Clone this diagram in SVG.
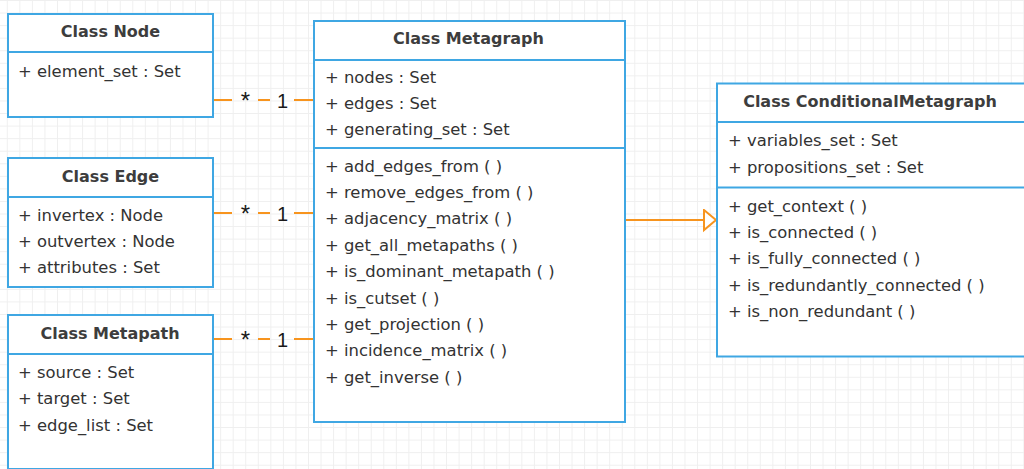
<svg xmlns="http://www.w3.org/2000/svg" width="1024" height="469" viewBox="0 0 1024 469">
  <style>
    .box { fill: #ffffff; stroke: #3FA7E3; stroke-width: 2; }
    .div { stroke: #3FA7E3; stroke-width: 2; fill: none; }
    .title { font-family: "DejaVu Sans", "Liberation Sans", sans-serif; font-size: 16px; font-weight: bold; fill: #3d3d3d; text-anchor: middle; }
    .member { font-family: "DejaVu Sans", "Liberation Sans", sans-serif; font-size: 16.4px; fill: #333333; }
    .assoc { stroke: #F7941E; stroke-width: 2; fill: none; }
    .mult { font-family: "Liberation Sans", Arial, sans-serif; font-size: 20px; fill: #1a1a1a; text-anchor: middle; }
    .star { font-size: 24px; }
  </style>
  <defs>
    <pattern id="grid" patternUnits="userSpaceOnUse" x="6.8" y="0" width="12.55" height="12.56">
      <rect x="0" y="0" width="1" height="12.56" fill="#efefef"/>
      <rect x="0" y="0" width="12.55" height="1" fill="#efefef"/>
    </pattern>
    <marker id="inherit" markerUnits="userSpaceOnUse" markerWidth="16" markerHeight="24" refX="13" refY="11" orient="auto">
      <path d="M1,1 L13,11 L1,21 Z" fill="#ffffff" stroke="#F7941E" stroke-width="2"/>
    </marker>
  </defs>

  <!-- background grid -->
  <rect x="0" y="0" width="1024" height="469" fill="#ffffff"/>
  <rect x="0" y="0" width="1024" height="469" fill="url(#grid)"/>

  <!-- connectors -->
  <g id="connectors">
    <!-- Node * - 1 Metagraph -->
    <path class="assoc" d="M214,100 H232 M258,100 H270 M294,100 H313"/>
    <text class="mult star" x="245.5" y="109">*</text>
    <text class="mult" x="282.5" y="108">1</text>
    <!-- Edge * - 1 Metagraph -->
    <path class="assoc" d="M214,213 H232 M258,213 H270 M294,213 H313"/>
    <text class="mult star" x="245.5" y="222">*</text>
    <text class="mult" x="282.5" y="221">1</text>
    <!-- Metapath * - 1 Metagraph -->
    <path class="assoc" d="M214,339 H232 M258,339 H270 M294,339 H313"/>
    <text class="mult star" x="245.5" y="348">*</text>
    <text class="mult" x="282.5" y="347">1</text>
    <!-- ConditionalMetagraph generalises Metagraph -->
    <path class="assoc" d="M626,220 H716" marker-end="url(#inherit)"/>
  </g>

  <g id="class-node">
    <rect class="box" x="8" y="14" width="205" height="103"/>
    <line class="div" x1="8" y1="52" x2="213" y2="52"/>
    <text class="title" x="110.5" y="37">Class Node</text>
    <text class="member" x="18" y="77">+ element_set : Set</text>
  </g>

  <g id="class-edge">
    <rect class="box" x="8" y="158" width="205" height="129"/>
    <line class="div" x1="8" y1="197" x2="213" y2="197"/>
    <text class="title" x="110.5" y="182">Class Edge</text>
    <text class="member" x="18" y="221">+ invertex : Node</text>
    <text class="member" x="18" y="247">+ outvertex : Node</text>
    <text class="member" x="18" y="273">+ attributes : Set</text>
  </g>

  <g id="class-metapath">
    <rect class="box" x="8" y="315" width="205" height="154"/>
    <line class="div" x1="8" y1="354" x2="213" y2="354"/>
    <text class="title" x="110" y="339">Class Metapath</text>
    <text class="member" x="18" y="378">+ source : Set</text>
    <text class="member" x="18" y="404">+ target : Set</text>
    <text class="member" x="18" y="431">+ edge_list : Set</text>
  </g>

  <g id="class-metagraph">
    <rect class="box" x="314" y="21" width="311" height="401"/>
    <line class="div" x1="314" y1="60" x2="625" y2="60"/>
    <line class="div" x1="314" y1="148" x2="625" y2="148"/>
    <text class="title" x="468.5" y="44">Class Metagraph</text>
    <text class="member" x="325" y="82.7">+ nodes : Set</text>
    <text class="member" x="325" y="109">+ edges : Set</text>
    <text class="member" x="325" y="135.3">+ generating_set : Set</text>
    <text class="member" x="325" y="171.5">+ add_edges_from ( )</text>
    <text class="member" x="325" y="197.9">+ remove_edges_from ( )</text>
    <text class="member" x="325" y="224.3">+ adjacency_matrix ( )</text>
    <text class="member" x="325" y="250.7">+ get_all_metapaths ( )</text>
    <text class="member" x="325" y="277.1">+ is_dominant_metapath ( )</text>
    <text class="member" x="325" y="303.5">+ is_cutset ( )</text>
    <text class="member" x="325" y="329.9">+ get_projection ( )</text>
    <text class="member" x="325" y="356.3">+ incidence_matrix ( )</text>
    <text class="member" x="325" y="382.7">+ get_inverse ( )</text>
  </g>

  <g id="class-conditional-metagraph">
    <rect class="box" x="717" y="83.5" width="320" height="273"/>
    <line class="div" x1="717" y1="122" x2="1030" y2="122"/>
    <line class="div" x1="717" y1="187.5" x2="1030" y2="187.5"/>
    <text class="title" x="870" y="106.7">Class ConditionalMetagraph</text>
    <text class="member" x="728" y="146">+ variables_set : Set</text>
    <text class="member" x="728" y="172.5">+ propositions_set : Set</text>
    <text class="member" x="728" y="211.7">+ get_context ( )</text>
    <text class="member" x="728" y="238">+ is_connected ( )</text>
    <text class="member" x="728" y="264.3">+ is_fully_connected ( )</text>
    <text class="member" x="728" y="290.7">+ is_redundantly_connected ( )</text>
    <text class="member" x="728" y="317">+ is_non_redundant ( )</text>
  </g>
</svg>
